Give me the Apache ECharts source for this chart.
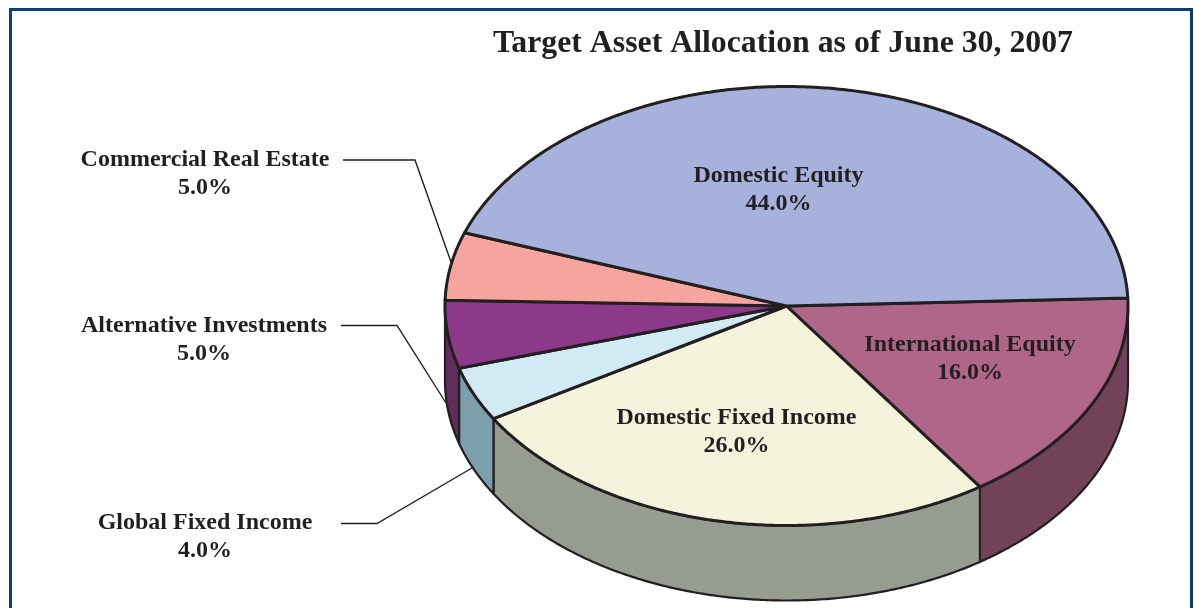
<!DOCTYPE html>
<html>
<head>
<meta charset="utf-8">
<title>Target Asset Allocation</title>
<script src="https://cdn.jsdelivr.net/npm/echarts@6/dist/echarts.min.js"></script>
<style>
html, body { margin: 0; padding: 0; background: #fff; }
#main { width: 1194px; height: 608px; }
</style>
</head>
<body>
<div id="main"></div>
<script>
// slices, clockwise from the right edge of the pie
var names = ['International Equity', 'Domestic Fixed Income', 'Global Fixed Income', 'Alternative Investments', 'Commercial Real Estate', 'Domestic Equity'];
var shares = [16, 26, 4, 5, 5, 44];
var topColors = ['#b06688', '#f4f4dc', '#d2eaf4', '#8c398a', '#f5a59e', '#a6b2dc'];
var sideColors = ['#724358', '#979c90', '#7c9fab', '#5f2c5c', '#f5a59e', '#a6b2dc'];

// label centre for each slice
var labelX = [970, 736.5, 205, 204, 205, 778.5];
var labelY = [358.5, 432, 536.5, 339.5, 174, 190];
// leader lines of the outside labels
var leaders = [
	[[343, 160], [415, 160], [451, 262]],
	[[341, 325.5], [397, 325.5], [446, 403]],
	[[341, 523.5], [377, 523.5], [472, 468]]
];

var cx = 786.5, cy = 306, rx = 341.5, ry = 219.5, depth = 75;
var startAngle = 2.1;
var inkColor = '#231f20';
var serif = '"Liberation Serif", "Times New Roman", serif';

function pointAt(deg, drop) {
	var t = deg * Math.PI / 180;
	return [cx + rx * Math.cos(t), cy - ry * Math.sin(t) + drop];
}

function arcPoints(from, to, drop) {
	var pts = [];
	var n = Math.max(2, Math.ceil(Math.abs(from - to) * 2));
	for (var i = 0; i <= n; i++) {
		pts.push(pointAt(from + (to - from) * i / n, drop));
	}
	return pts;
}

function renderSlice(params, api) {
	var idx = params.dataIndex;
	var before = 0;
	for (var i = 0; i < idx; i++) before += shares[i];
	var from = startAngle - before * 3.6;
	var to = from - api.value(0) * 3.6;
	var children = [];

	// side wall only for the part on the front half
	var a = Math.min(from, 0), b = Math.max(to, -180);
	if (a > b) {
		var wall = arcPoints(a, b, 0).concat(arcPoints(b, a, depth));
		children.push({
			type: 'polygon',
			shape: { points: wall },
			style: { fill: sideColors[idx], stroke: inkColor, lineWidth: 2.2, lineJoin: 'round' }
		});
	}
	children.push({
		type: 'polygon',
		shape: { points: [[cx, cy]].concat(arcPoints(from, to, 0)) },
		style: { fill: topColors[idx], stroke: inkColor, lineWidth: 3, lineJoin: 'round' }
	});
	return { type: 'group', children: children };
}

function renderLabel(params, api) {
	var idx = params.dataIndex;
	return {
		type: 'text',
		z2: 10,
		style: {
			x: labelX[idx],
			y: labelY[idx],
			text: names[idx] + '\n' + api.value(0).toFixed(1) + '%',
			font: 'bold 24px ' + serif,
			lineHeight: 28,
			fill: inkColor,
			align: 'center',
			verticalAlign: 'middle'
		}
	};
}

var myChart = echarts.init(document.getElementById('main'));
var graphics = [{
	type: 'rect',
	shape: { x: 10.5, y: 9.5, width: 1181, height: 700 },
	style: { fill: 'none', stroke: '#0b3f73', lineWidth: 3 },
	silent: true
}];
for (var i = 0; i < leaders.length; i++) {
	graphics.push({
		type: 'polyline',
		shape: { points: leaders[i] },
		style: { fill: 'none', stroke: inkColor, lineWidth: 1.4 },
		silent: true
	});
}
var option = {
	animation: false,
	backgroundColor: '#fff',
	title: {
		text: 'Target Asset Allocation as of June 30, 2007',
		left: 778,
		top: 23,
		textAlign: 'center',
		textStyle: { fontFamily: serif, fontWeight: 'bold', fontSize: 31.8, color: inkColor }
	},
	graphic: graphics,
	series: [{
		type: 'custom',
		coordinateSystem: 'none',
		renderItem: renderSlice,
		data: shares,
		z: 2
	}, {
		type: 'custom',
		coordinateSystem: 'none',
		renderItem: renderLabel,
		data: shares,
		z: 3
	}]
};
myChart.setOption(option);
window.onresize = myChart.resize;
</script>
</body>
</html>
